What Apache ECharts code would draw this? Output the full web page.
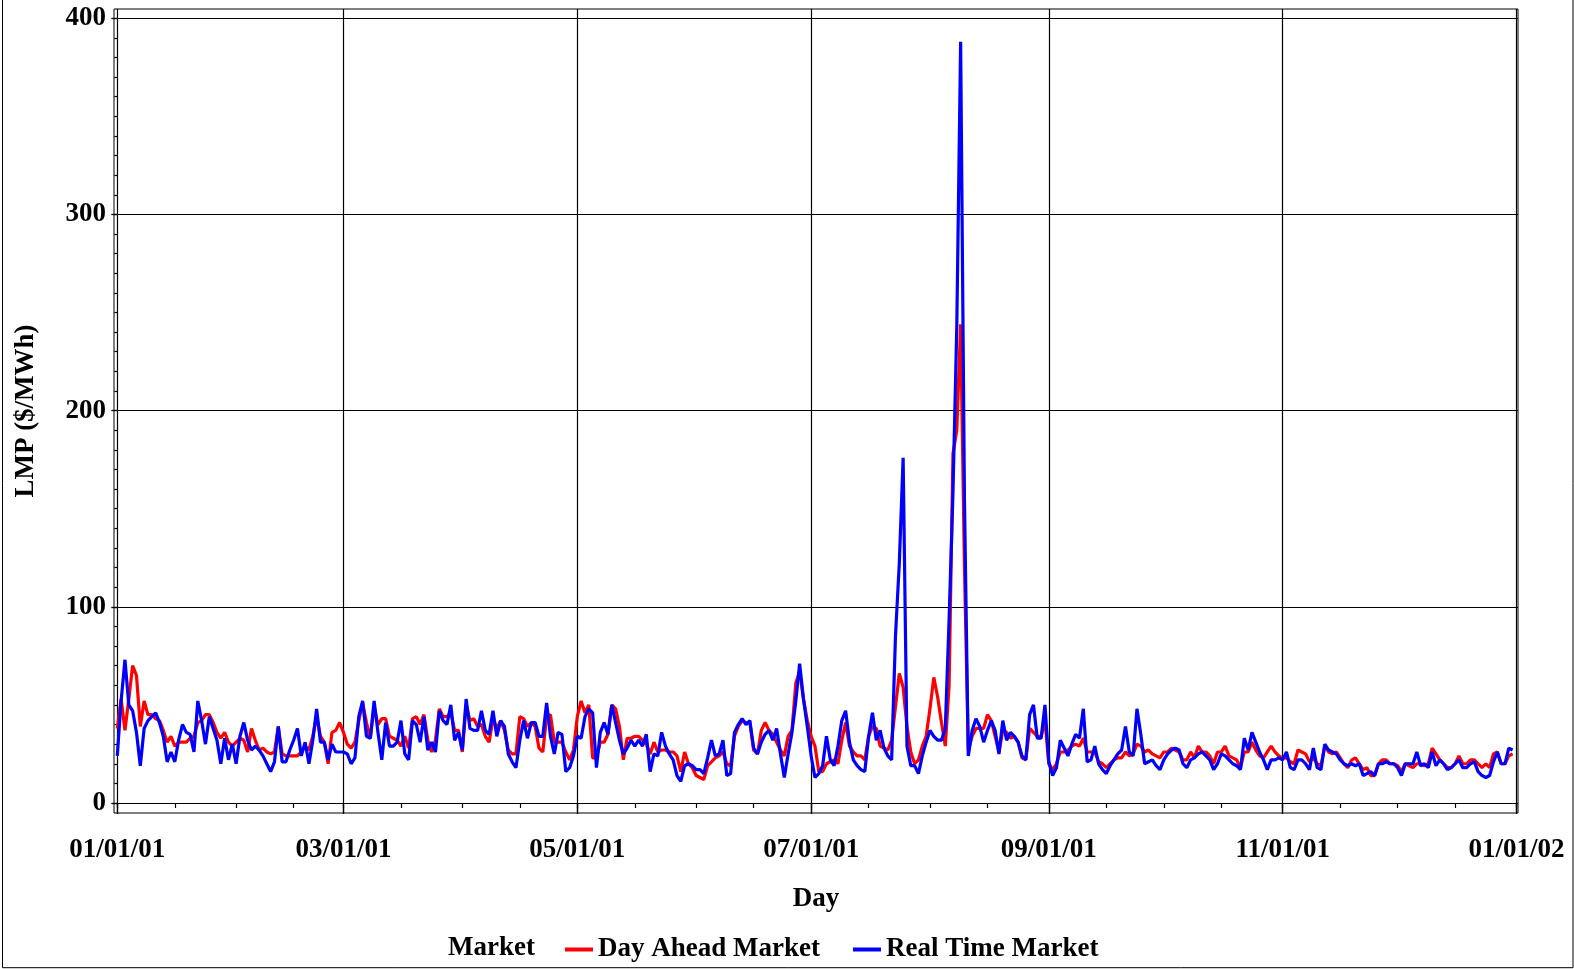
<!DOCTYPE html>
<html>
<head>
<meta charset="utf-8">
<title>LMP 2001</title>
<script src="https://cdn.jsdelivr.net/npm/echarts@6/dist/echarts.min.js"></script>
<style>
  html, body { margin: 0; padding: 0; background: #fff; }
  #chart { width: 1574px; height: 969px; }
</style>
</head>
<body>
<div id="chart"></div>
<script>
// daily LMP, 01/01/01 .. 12/31/01 (day index 0..364)
const dayAhead = [
  38, 53, 37, 53, 70, 65, 39, 52, 45, 45,
  43, 42, 37, 31, 34, 29, 31, 31, 31, 33,
  34, 41, 42, 45, 45, 41, 36, 33, 36, 31,
  29, 31, 33, 32, 26, 38, 32, 27, 28, 26,
  25, 26, 39, 25, 24, 24, 24, 24, 26, 29,
  27, 34, 44, 34, 31, 20, 36, 37, 41, 36,
  30, 28, 31, 42, 51, 41, 33, 49, 40, 43,
  43, 34, 33, 32, 29, 34, 28, 43, 44, 40,
  45, 32, 26, 32, 48, 44, 44, 46, 37, 37,
  26, 50, 42, 43, 39, 40, 34, 31, 43, 38,
  42, 37, 27, 25, 25, 44, 43, 39, 41, 39,
  28, 26, 44, 45, 31, 31, 31, 26, 22, 27,
  44, 52, 46, 50, 23, 23, 31, 31, 35, 50,
  48, 39, 22, 33, 33, 34, 34, 32, 30, 25,
  31, 26, 27, 27, 26, 26, 24, 16, 26, 20,
  18, 14, 13, 12, 19, 21, 23, 24, 26, 20,
  19, 34, 39, 42, 41, 41, 27, 25, 37, 41,
  37, 35, 31, 27, 24, 34, 37, 61, 67, 53,
  42, 34, 29, 16, 16, 20, 21, 22, 20, 32,
  41, 29, 26, 24, 24, 22, 34, 39, 38, 29,
  28, 27, 32, 49, 66, 59, 39, 26, 20, 22,
  29, 34, 48, 64, 54, 41, 29, 60, 178, 190,
  244, 120, 27, 34, 38, 38, 38, 45, 42, 34,
  26, 37, 36, 33, 34, 31, 23, 22, 38, 36,
  34, 34, 42, 20, 17, 20, 26, 26, 27, 29,
  30, 29, 33, 26, 26, 26, 21, 20, 18, 20,
  22, 23, 23, 26, 24, 25, 30, 29, 26, 27,
  25, 24, 23, 26, 26, 28, 27, 26, 22, 22,
  26, 23, 29, 26, 26, 24, 20, 26, 26, 29,
  24, 23, 22, 18, 26, 26, 31, 27, 24, 23,
  26, 29, 26, 24, 23, 23, 21, 20, 27, 26,
  25, 21, 23, 20, 19, 29, 26, 25, 26, 23,
  20, 18, 22, 23, 20, 17, 18, 14, 14, 20,
  22, 22, 20, 20, 19, 16, 20, 19, 18, 20,
  20, 19, 20, 28, 25, 22, 20, 18, 18, 20,
  24, 20, 20, 22, 22, 20, 18, 20, 18, 25,
  26, 20, 20, 24, 25
];
const realTime = [
  24, 52, 73, 50, 47, 36, 19, 38, 42, 44,
  46, 41, 34, 21, 26, 21, 32, 40, 36, 35,
  26, 52, 42, 30, 44, 38, 32, 20, 33, 22,
  30, 20, 34, 41, 32, 27, 29, 27, 24, 20,
  16, 21, 39, 21, 21, 27, 32, 38, 24, 31,
  20, 32, 48, 31, 31, 22, 30, 26, 26, 26,
  25, 20, 23, 44, 52, 34, 33, 52, 36, 22,
  41, 29, 29, 31, 42, 25, 22, 42, 40, 31,
  44, 27, 31, 26, 47, 42, 40, 50, 32, 36,
  27, 53, 38, 37, 37, 47, 37, 35, 47, 34,
  42, 39, 25, 21, 18, 32, 42, 33, 41, 41,
  34, 34, 51, 34, 25, 36, 35, 16, 18, 24,
  34, 33, 44, 48, 46, 18, 36, 41, 35, 50,
  41, 32, 25, 28, 32, 29, 32, 29, 35, 16,
  25, 24, 36, 29, 25, 22, 14, 11, 19, 20,
  19, 17, 17, 15, 23, 32, 24, 25, 32, 14,
  15, 36, 40, 43, 40, 42, 28, 25, 31, 35,
  37, 32, 38, 25, 13, 25, 36, 52, 71, 53,
  39, 24, 13, 15, 19, 34, 22, 19, 29, 42,
  47, 31, 22, 19, 17, 16, 34, 46, 32, 37,
  28, 24, 22, 85, 122, 176, 29, 19, 19, 15,
  24, 31, 37, 34, 32, 32, 38, 94, 158, 243,
  388, 154, 24, 37, 43, 39, 31, 37, 42, 37,
  25, 42, 32, 36, 34, 31, 24, 22, 45, 50,
  33, 33, 50, 21, 14, 18, 32, 28, 24, 30,
  35, 33, 48, 21, 22, 29, 20, 17, 15, 19,
  22, 25, 27, 39, 26, 24, 48, 35, 20, 21,
  22, 19, 17, 22, 25, 27, 28, 27, 20, 18,
  22, 23, 25, 26, 24, 22, 17, 20, 25, 24,
  22, 20, 19, 17, 33, 27, 36, 31, 26, 22,
  17, 22, 22, 23, 22, 26, 18, 17, 22, 22,
  20, 17, 28, 18, 17, 30, 27, 26, 25, 22,
  20, 19, 20, 19, 20, 14, 15, 16, 14, 20,
  20, 21, 20, 20, 18, 14, 20, 20, 20, 26,
  19, 20, 18, 26, 19, 22, 20, 17, 18, 20,
  22, 18, 18, 20, 21, 16, 14, 13, 14, 21,
  26, 20, 20, 28, 27
];

// x axis: day index, month starts of 2001 (+ 01/01/02)
const monthStarts = [0, 31, 59, 90, 120, 151, 181, 212, 243, 273, 304, 334, 365];
const labelDays = [0, 59, 120, 181, 243, 304, 365];
const labelTexts = ['01/01/01', '03/01/01', '05/01/01', '07/01/01', '09/01/01', '11/01/01', '01/01/02'];
const yMajor = [0, 100, 200, 300, 400];

const FONT = '"Liberation Serif", "Times New Roman", serif';
const txt = { color: '#000', fontFamily: FONT, fontWeight: 'bold', fontSize: 27 };

// minor ticks on the 1st and 16th of each month, every 10 on y
const minorDays = [];
monthStarts.forEach((d, i) => {
  minorDays.push(d);
  if (i < monthStarts.length - 1) minorDays.push(d + 15);
});
const yMinor = [];
for (let v = 0; v <= 400; v += 10) yMinor.push(v);

const X_MIN = -0.86, X_MAX = 365.4;
const Y_MIN = -5.1, Y_MAX = 404.7;

const chart = echarts.init(document.getElementById('chart'), null, { renderer: 'canvas' });

chart.setOption({
  animation: false,
  backgroundColor: '#fff',
  grid: {
    left: 114, right: 56, top: 9, bottom: 156,
    show: true, borderColor: '#000', borderWidth: 1, backgroundColor: 'transparent'
  },
  legend: {
    left: 560, top: 931,
    icon: 'rect', itemWidth: 28, itemHeight: 4, itemGap: 33,
    selectedMode: false,
    textStyle: txt,
    data: ['Day Ahead Market', 'Real Time Market']
  },
  graphic: [
    {
      type: 'text', left: 448, top: 935,
      style: { text: 'Market', fill: '#000', font: 'bold 27px ' + FONT }
    },
    {
      type: 'rect', silent: true,
      shape: { x: 2.5, y: -5, width: 1570.5, height: 972.7 },
      style: { fill: 'none', stroke: '#000', lineWidth: 1 }
    }
  ],
  xAxis: [
    {
      type: 'value', min: X_MIN, max: X_MAX, position: 'bottom',
      axisLine: { show: false },
      axisTick: { customValues: labelDays, length: 11, lineStyle: { color: '#000', width: 1.3 } },
      axisLabel: {
        customValues: labelDays, margin: 24, ...txt,
        formatter: v => labelTexts[labelDays.indexOf(v)]
      },
      splitLine: { show: true, lineStyle: { color: '#000', width: 1.2 } },
      name: 'Day', nameLocation: 'middle', nameGap: 73, nameTextStyle: txt
    },
    {
      type: 'value', min: X_MIN, max: X_MAX, position: 'bottom',
      axisLine: { show: false },
      axisTick: { customValues: minorDays, length: 5, lineStyle: { color: '#000', width: 1.2 } },
      axisLabel: { show: false },
      splitLine: { show: false }
    }
  ],
  yAxis: [
    {
      type: 'value', min: Y_MIN, max: Y_MAX, position: 'left',
      axisLine: { show: false },
      axisTick: { customValues: yMajor, length: 6, lineStyle: { color: '#000', width: 1.3 } },
      axisLabel: { customValues: yMajor, margin: 8, padding: [5, 0, 0, 0], ...txt },
      splitLine: { show: true, lineStyle: { color: '#000', width: 1.2 } },
      name: 'LMP ($/MWh)', nameLocation: 'middle', nameGap: 74, nameRotate: 90,
      nameTextStyle: txt
    },
    {
      type: 'value', min: Y_MIN, max: Y_MAX, position: 'left',
      axisLine: { show: false },
      axisTick: { customValues: yMinor, length: 3, lineStyle: { color: '#000', width: 1.2 } },
      axisLabel: { show: false },
      splitLine: { show: false }
    }
  ],
  series: [
    {
      name: 'Day Ahead Market', type: 'line', xAxisIndex: 0, yAxisIndex: 0,
      showSymbol: false, color: '#ff0000',
      lineStyle: { width: 3.2, color: '#ff0000' },
      data: dayAhead.map((v, i) => [i, v])
    },
    {
      name: 'Real Time Market', type: 'line', xAxisIndex: 0, yAxisIndex: 0,
      showSymbol: false, color: '#0000ff',
      lineStyle: { width: 3.2, color: '#0000ff' },
      data: realTime.map((v, i) => [i, v])
    }
  ]
});
</script>
</body>
</html>
